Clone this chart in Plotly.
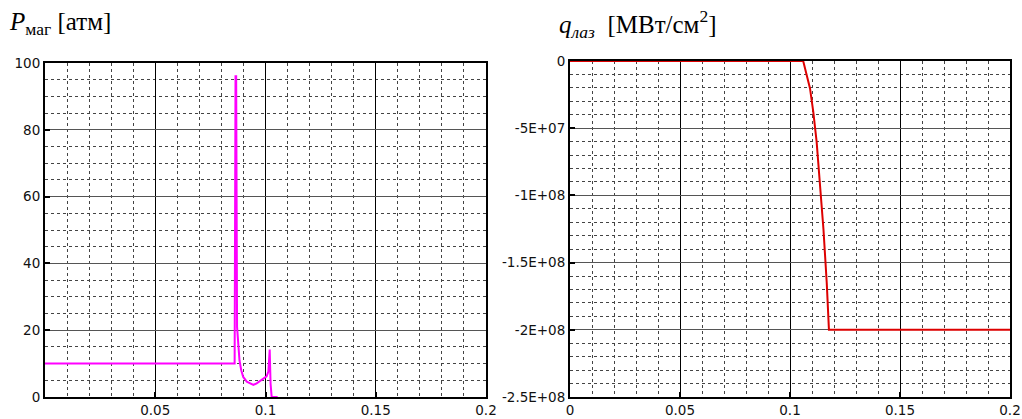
import plotly.graph_objects as go

# ---- data ----
x_p = [0, 0.0860, 0.0864, 0.0867, 0.0871, 0.0876, 0.0882, 0.0890, 0.0899,
       0.0915, 0.0945, 0.0960, 0.0983, 0.1005, 0.1013, 0.1019, 0.1023, 0.1028, 0.1055]
y_p = [10, 10, 96, 96, 21, 15.5, 11, 8, 6,
       4.6, 3.6, 4.1, 5.1, 6.2, 7.6, 14.2, 4, 0, 0]

x_q = [0, 0.106, 0.1091, 0.1106, 0.1121, 0.1136, 0.1152, 0.1167, 0.1177, 0.2]
y_q = [0, 0, -2.04e7, -3.8e7, -6.0e7, -9.0e7, -1.25e8, -1.65e8, -2.0e8, -2.0e8]

x_ticks_left = [0.05, 0.1, 0.15, 0.2]
x_ticks_right = [0, 0.05, 0.1, 0.15, 0.2]
x_tick_text_right = ["0", "0.05", "0.1", "0.15", "0.2"]
x_tick_text_left = ["0.05", "0.1", "0.15", "0.2"]
y_ticks_left = [0, 20, 40, 60, 80, 100]
y_ticks_right = [0, -5e7, -1e8, -1.5e8, -2e8, -2.5e8]
y_tick_text_right = ["0", "-5E+07", "-1E+08", "-1.5E+08", "-2E+08", "-2.5E+08"]

W, H = 1022, 419

def px_x(s):
    return s / W

def px_y(s):
    return 1 - s / H

fig = go.Figure()
fig.add_trace(go.Scatter(x=x_p, y=y_p, mode="lines", line=dict(color="#ff00ff", width=2),
                         xaxis="x", yaxis="y", showlegend=False))
fig.add_trace(go.Scatter(x=x_q, y=y_q, mode="lines", line=dict(color="#dd0000", width=2),
                         xaxis="x2", yaxis="y2", showlegend=False))

tickfont = dict(family="DejaVu Sans, Arial, sans-serif", size=13.5, color="#111")

def xax(domain, tickvals, ticktext, anchor):
    return dict(domain=domain, range=[0, 0.2], tickmode="array", tickvals=tickvals, ticktext=ticktext,
                showgrid=True, gridcolor="#000", gridwidth=1, anchor=anchor, automargin=False,
                ticks="inside", ticklen=5, tickwidth=2, tickcolor="#000",
                showline=True, linewidth=2, linecolor="#000", mirror=True,
                zeroline=False, tickfont=tickfont, fixedrange=True,
                minor=dict(tickmode="linear", tick0=0, dtick=0.01, showgrid=True,
                           gridcolor="#444", griddash="dot", gridwidth=1, ticks=""))

def yax(domain, rng, tickvals, ticktext, minor_dtick, anchor):
    return dict(domain=domain, range=rng, tickmode="array", tickvals=tickvals, ticktext=ticktext,
                showgrid=True, gridcolor="#555", gridwidth=1, anchor=anchor, automargin=False,
                ticks="inside", ticklen=5, tickwidth=2, tickcolor="#000",
                showline=True, linewidth=2, linecolor="#000", mirror=True,
                zeroline=False, tickfont=tickfont, fixedrange=True,
                minor=dict(tickmode="linear", tick0=0, dtick=minor_dtick, showgrid=True,
                           gridcolor="#444", griddash="dot", gridwidth=1, ticks=""))

fig.update_layout(
    width=W, height=H,
    margin=dict(l=0, r=0, t=0, b=0, autoexpand=False),
    paper_bgcolor="white", plot_bgcolor="white",
    xaxis=xax([px_x(45), px_x(486)], x_ticks_left, x_tick_text_left, "y"),
    yaxis=yax([px_y(397), px_y(63)], [0, 100], y_ticks_left, [str(v) for v in y_ticks_left], 5, "x"),
    xaxis2=xax([px_x(570), px_x(1010)], x_ticks_right, x_tick_text_right, "y2"),
    yaxis2=yax([px_y(397), px_y(61)], [-2.5e8, 0], y_ticks_right, y_tick_text_right, 1e7, "x2"),
)

title_font = dict(family="Liberation Serif, Times New Roman, serif", size=25, color="#000")
fig.add_annotation(xref="paper", yref="paper", x=px_x(7), y=px_y(24), xanchor="left", yanchor="middle",
                   text="<i>P</i><sub>маг</sub> [атм]", showarrow=False, font=title_font)
fig.add_annotation(xref="paper", yref="paper", x=px_x(557), y=px_y(24), xanchor="left", yanchor="middle",
                   text="<i>q</i><sub><i>лаз</i></sub>  [МВт/см<sup>2</sup>]", showarrow=False, font=title_font)

fig.write_html(
    "out.html",
    config={"displayModeBar": False},
    post_script="document.body.style.margin='0';document.body.style.overflow='hidden';",
)
